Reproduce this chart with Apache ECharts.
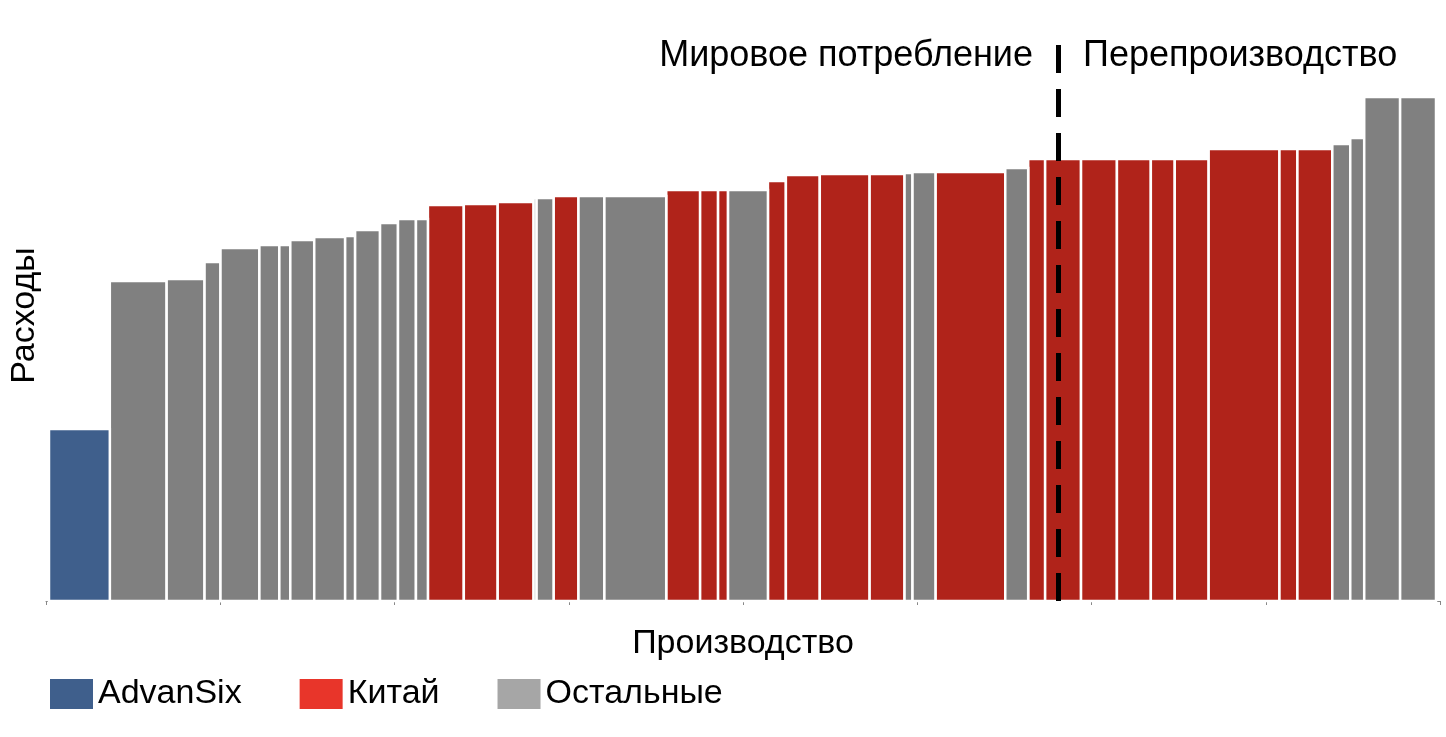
<!DOCTYPE html>
<html><head><meta charset="utf-8">
<script src="https://cdn.jsdelivr.net/npm/echarts@6/dist/echarts.min.js"></script>
<style>html,body{margin:0;padding:0;background:#fff}#c{width:1446px;height:737px}</style>
</head><body><div id="c"></div>
<script>
const widths = [61,57,38,16,39,20,11,24,31,10,25,18,18,12,36,34,36,3,17,25,26,62,34,18,10,40,18,34,50,35,8,23,70,23,17,36,36,34,24,34,71,18,35,18,14,36,36];
const costs = [172,320,322,339,353,356,356,361,364,365,371,378,382,382,396,397,399,403,403,405,405,405,411,411,411,411,420,426,427,427,428,429,429,433,442,442,442,442,442,442,452,452,452,457,463,504,504];
const groups = ['A','O','O','O','O','O','O','O','O','O','O','O','O','O','C','C','C','O','O','C','O','O','C','C','C','O','C','C','C','C','O','O','C','O','C','C','C','C','C','C','C','C','C','O','O','O','O'];
const seriesNames = {A:'AdvanSix', C:'Китай', O:'Остальные'};
const barColors = {A:'#3F5F8C', C:'#B0231A', O:'#808080'};
const legendColors = {A:'#3F5F8C', C:'#E8352A', O:'#A6A6A6'};
const dividerX = 1015;

const startOffset = 3;
const data = {A:[], C:[], O:[]};
let acc = startOffset;
widths.forEach((w,i)=>{ data[groups[i]].push([acc, acc+w, costs[i]]); acc += w; });

function renderItem(params, api){
  const p0 = api.coord([api.value(0), 0]);
  const p1 = api.coord([api.value(1), api.value(2)]);
  return {type:'rect', shape:{x:p0[0], y:p1[1], width:p1[0]-p0[0], height:p0[1]-p1[1]},
    style:{fill:api.visual('color'), stroke:'#fff', lineWidth:2.5}};
}
const font = 'Liberation Sans, Arial, sans-serif';
const series = ['A','C','O'].map(k=>({
  type:'custom', name:seriesNames[k], renderItem, itemStyle:{color:barColors[k]},
  encode:{x:[0,1], y:2}, data:data[k]
}));
series[0].markLine = {silent:true, symbol:'none', label:{show:false},
  lineStyle:{color:'#000', width:5, type:[28,16]},
  data:[[{coord:[dividerX,0]},{coord:[dividerX,561]}]]};
series[0].z = 5;

const chart = echarts.init(document.getElementById('c'));
chart.setOption({
  animation:false,
  grid:{left:42, right:6, top:30, bottom:136},
  xAxis:{type:'value', min:0, max:1398, interval:174.75, axisLine:{lineStyle:{color:'#888'}},
    axisTick:{length:4, lineStyle:{color:'#888'}}, axisLabel:{show:false}, splitLine:{show:false},
    name:'Производство', nameLocation:'middle', nameGap:26, nameTextStyle:{fontSize:34, color:'#000', fontFamily:font}},
  yAxis:{type:'value', min:0, max:571, show:true, axisLine:{show:false}, axisTick:{show:false}, axisLabel:{show:false}, splitLine:{show:false},
    name:'Расходы', nameLocation:'middle', nameGap:4, nameTextStyle:{fontSize:34, color:'#000', fontFamily:font}},
  legend:{left:45, top:672, itemWidth:43, itemHeight:30, itemGap:58, icon:'rect',
    textStyle:{fontSize:34, color:'#000', fontFamily:font},
    data:['A','C','O'].map(k=>({name:seriesNames[k], itemStyle:{color:legendColors[k]}}))},
  graphic:[
    {type:'text', right:413, top:38, style:{text:'Мировое потребление', fontSize:36, fill:'#000', fontFamily:font}},
    {type:'text', left:1083, top:38, style:{text:'Перепроизводство', fontSize:36, fill:'#000', fontFamily:font}}
  ],
  series
});
</script></body></html>
